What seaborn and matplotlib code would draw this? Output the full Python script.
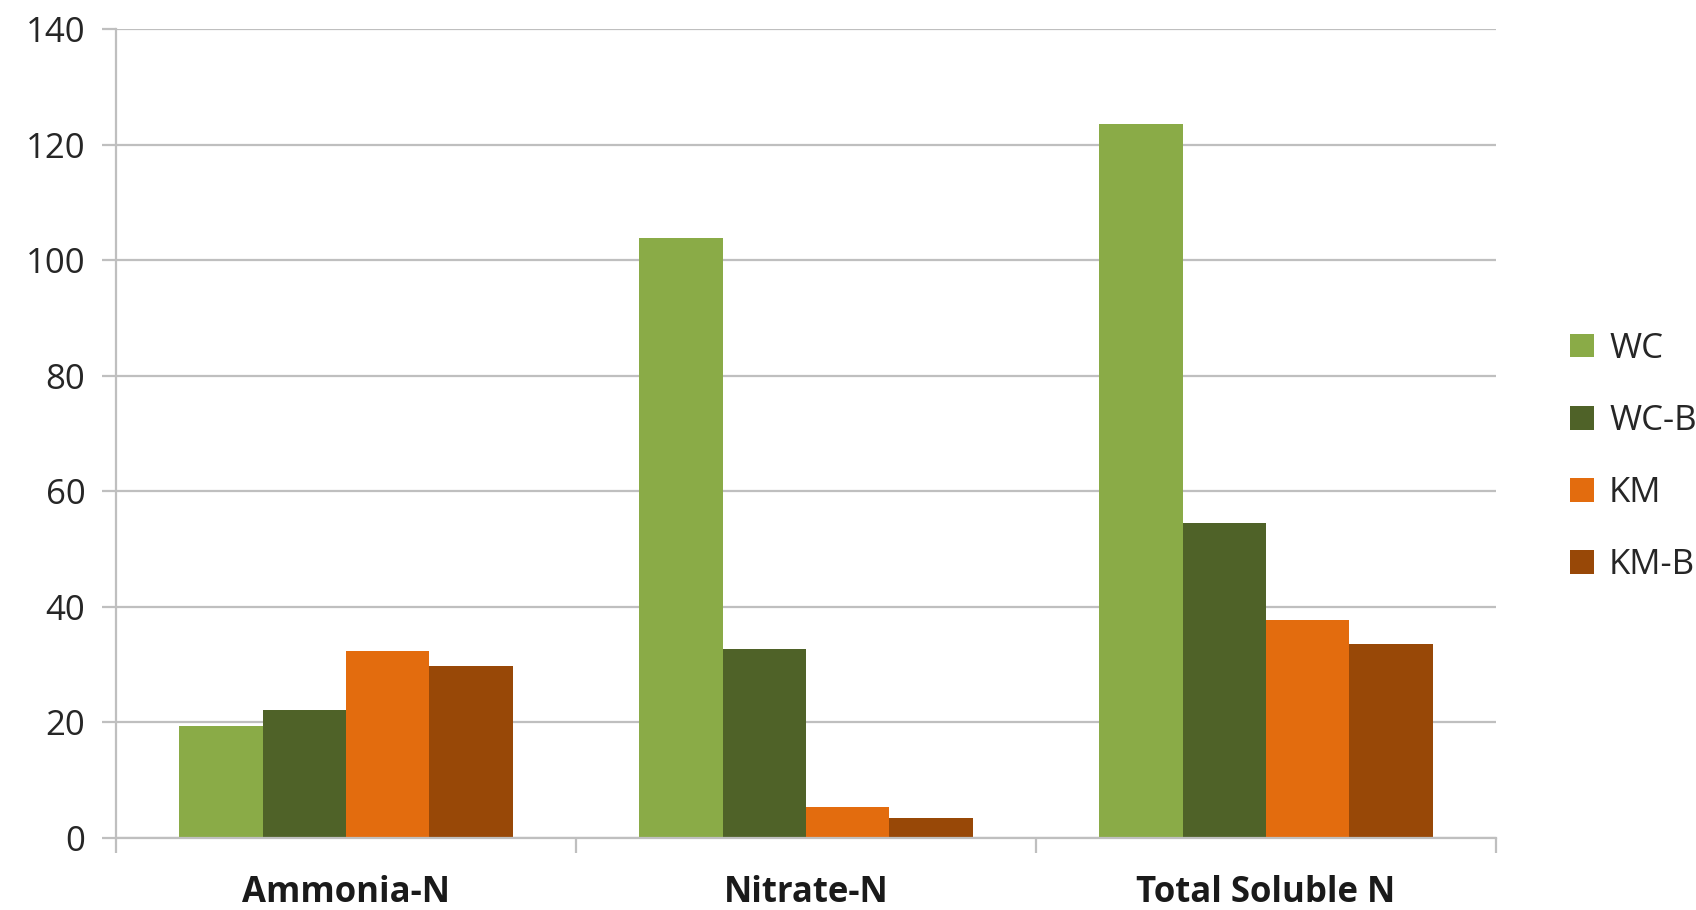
import matplotlib
matplotlib.use("Agg")
import matplotlib.pyplot as plt
from matplotlib.patches import Patch
import seaborn as sns
import pandas as pd

# Soluble nitrogen fractions by treatment
categories = ["Ammonia-N", "Nitrate-N", "Total Soluble N"]
treatments = ["WC", "WC-B", "KM", "KM-B"]
wc = [19.4, 103.9, 123.6]
wc_b = [22.1, 32.7, 54.5]
km = [32.4, 5.3, 37.7]
km_b = [29.7, 3.5, 33.6]
y_ticks = [0, 20, 40, 60, 80, 100, 120, 140]

colors = ["#8AAB47", "#4F6228", "#E36C0E", "#984807"]

rows = []
for name, vals in zip(treatments, [wc, wc_b, km, km_b]):
    for cat, v in zip(categories, vals):
        rows.append({"category": cat, "treatment": name, "value": v})
df = pd.DataFrame(rows)

sns.set_theme(style="white")
plt.rcParams["font.family"] = ["Open Sans", "DejaVu Sans"]

fig = plt.figure(figsize=(16.96, 9.10), dpi=100)
ax = fig.add_axes([116 / 1696, 72 / 910, 1380 / 1696, 809 / 910])

sns.barplot(data=df, x="category", y="value", hue="treatment",
            order=categories, hue_order=treatments, palette=colors,
            width=0.725, saturation=1, edgecolor="none", linewidth=0,
            legend=False, ax=ax)

grid_c = "#BFBFBF"
ax.set_ylim(0, 140)
ax.set_xlim(-0.5, 2.5)
ax.set_yticks(y_ticks)
ax.set_yticklabels([str(t) for t in y_ticks], fontsize=25, color="#262626")
ax.yaxis.grid(True, color=grid_c, linewidth=1.6)
ax.set_axisbelow(True)

for s in ["top", "right"]:
    ax.spines[s].set_visible(False)
for s in ["left", "bottom"]:
    ax.spines[s].set_color(grid_c)
    ax.spines[s].set_linewidth(1.6)

ax.tick_params(axis="y", which="major", length=10, width=1.6, color=grid_c,
               pad=12, left=True)
ax.tick_params(axis="x", which="major", length=0, pad=27)
ax.set_xticks(range(len(categories)))
ax.set_xticklabels(categories, fontsize=25, fontweight="bold", color="#1a1a1a")
ax.set_xticks([-0.5, 0.5, 1.5, 2.5], minor=True)
ax.tick_params(axis="x", which="minor", length=11, width=1.6, color=grid_c,
               bottom=True, direction="out")
ax.set_xlabel("")
ax.set_ylabel("")

handles = [Patch(facecolor=c, edgecolor="none", label=t)
           for c, t in zip(colors, treatments)]
fig.legend(handles=handles, loc="center left",
           bbox_to_anchor=(1556 / 1696, 1 - 457 / 910),
           frameon=False, fontsize=25, handlelength=0.68, handleheight=0.68,
           handletextpad=0.45, labelspacing=1.1, borderaxespad=0,
           labelcolor="#262626")

fig.savefig("out.png", dpi=100, facecolor="white")
